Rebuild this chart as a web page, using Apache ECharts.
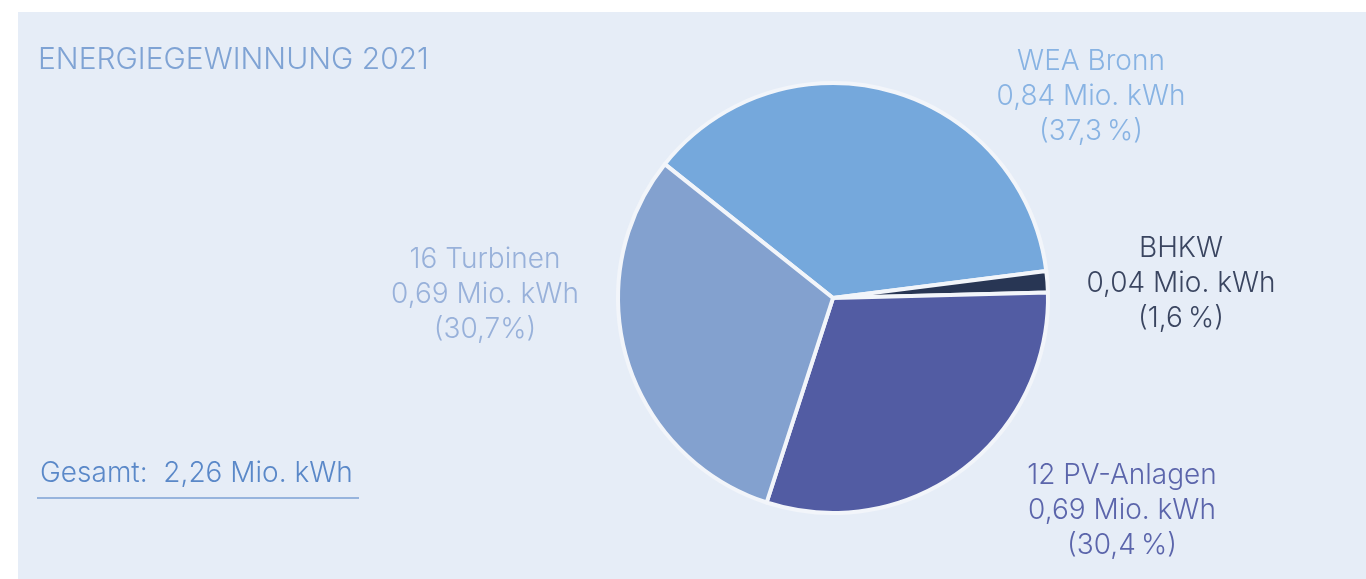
<!DOCTYPE html>
<html>
<head>
    <meta charset="UTF-8">
    <title>Energiegewinnung 2021</title>
    <script src="https://cdn.jsdelivr.net/npm/echarts@6/dist/echarts.min.js"></script>
    <style>
        html, body { margin: 0; padding: 0; background: #ffffff; }
        #pie { width: 1366px; height: 579px; }
    </style>
</head>
<body>
    <div id="pie"></div>
    <script>
        // data
        var names = ['WEA Bronn', 'BHKW', '12 PV-Anlagen', '16 Turbinen'];
        var energy = ['0,84', '0,04', '0,69', '0,69'];      // Mio. kWh
        var shares = [37.3, 1.6, 30.4, 30.7];                // percent
        var shareText = ['37,3\u2009%', '1,6\u2009%', '30,4\u2009%', '30,7%'];
        var total = '2,26';

        var sliceColors = ['#75a8dc', '#283654', '#525ca3', '#83a1cf'];
        var labelColors = ['#88b3e3', '#3a4560', '#5b65ab', '#98b1da'];
        // where each label block is centred
        var labelPos = [[1091, 97], [1181, 284], [1122, 511], [485, 295]];

        var font = 'Inter, "Noto Sans", sans-serif';

        var chart = echarts.init(document.getElementById('pie'), null, {renderer: 'canvas'});

        var data = [];
        for (var i = 0; i < names.length; i++) {
            data.push({
                name: names[i],
                value: shares[i],
                itemStyle: {color: sliceColors[i]},
                label: {color: labelColors[i]}
            });
        }

        chart.setOption({
            backgroundColor: '#ffffff',
            animation: false,
            graphic: [
                {
                    type: 'rect', left: 18, top: 12, z: -10,
                    shape: {width: 1348, height: 567},
                    style: {fill: '#e6edf7'}
                },
                {
                    type: 'text', left: 38, top: 45,
                    style: {text: 'ENERGIEGEWINNUNG 2021', font: '300 30px ' + font, fill: '#7fa3d4'}
                },
                {
                    type: 'text', left: 40, top: 460,
                    style: {text: 'Gesamt:  ' + total + ' Mio. kWh', font: '300 28px ' + font, fill: '#5a88c8'}
                },
                {
                    type: 'line',
                    shape: {x1: 37, y1: 498, x2: 359, y2: 498},
                    style: {stroke: '#7ca0d4', lineWidth: 1.5}
                }
            ],
            series: [{
                type: 'pie',
                center: [833, 298],
                radius: [0, 215],
                startAngle: 141.5,
                clockwise: true,
                data: data,
                itemStyle: {borderColor: '#f2f5fa', borderWidth: 4},
                emphasis: {disabled: true},
                labelLine: {show: false},
                label: {
                    show: true,
                    position: 'outside',
                    fontFamily: font,
                    fontWeight: 300,
                    fontSize: 28,
                    lineHeight: 35,
                    align: 'center',
                    formatter: function (p) {
                        var k = p.dataIndex;
                        return names[k] + '\n' + energy[k] + ' Mio. kWh\n(' + shareText[k] + ')';
                    }
                },
                labelLayout: function (p) {
                    var pos = labelPos[p.dataIndex];
                    return {x: pos[0], y: pos[1], align: 'center', verticalAlign: 'middle'};
                }
            }]
        });
    </script>
</body>
</html>
